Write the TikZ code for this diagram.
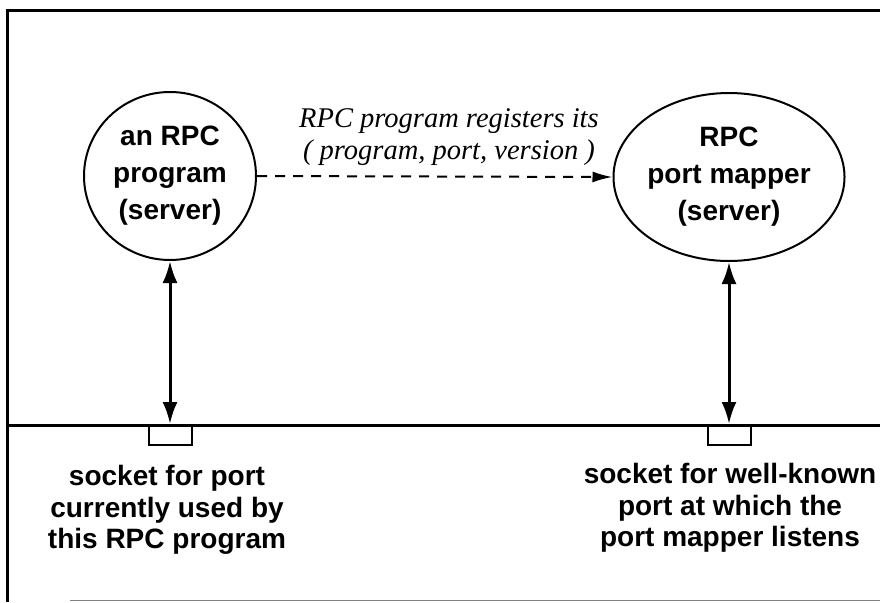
\documentclass[tikz,border=0pt]{standalone}
\usepackage{fontspec}
\setmainfont{Liberation Sans}
\newfontfamily\tnr{Liberation Serif}
\usetikzlibrary{arrows.meta,shapes.geometric}
\begin{document}
\begin{tikzpicture}[x=1pt,y=-1pt]
\useasboundingbox[fill=white] (0,0) rectangle (880,602);
\tikzset{
  proc/.style={draw, line width=2pt, ellipse, minimum width=172pt, minimum height=168pt, inner sep=0pt, align=center, font=\fontsize{28}{37}\selectfont\bfseries},
  sock/.style={draw, line width=2pt, minimum width=43pt, minimum height=20pt, inner sep=0pt, anchor=north},
  note/.style={align=center, font=\fontsize{28}{31.5}\selectfont\bfseries},
  bar/.style={line width=3pt},
  link/.style={line width=3pt, {Latex[length=22pt,width=15pt]}-{Latex[length=22pt,width=15pt]}},
  reg/.style={line width=2pt, dash pattern=on 10pt off 8pt, -{Latex[length=20pt,width=11pt]}},
  regnote/.style={align=center, font=\tnr\itshape\fontsize{28.5}{32}\selectfont}
}
% frame
\coordinate (tl) at (7,11);
\coordinate (tr) at (880,11);
\coordinate (bl) at (7,602);
\coordinate (ml) at (7,425);
\coordinate (mr) at (880,425);
\draw[bar] (tl) -- (tr);
\draw[bar] (7,9.5) -- (bl);
\draw[bar] (ml) -- (mr);
\draw[line width=1pt, gray] (70,600) -- (880,600);

% servers
\node[proc] (prog) at (170,176) {an RPC\\program\\(server)};
\node[proc] (mapper) at (729,177) {RPC\\port mapper\\(server)};

% sockets
\node[sock] (sockL) at (170,424) {};
\node[sock] (sockR) at (729,424) {};

% connectors
\draw[link] (prog.south) -- (sockL.north);
\draw[link] (mapper.south) -- (sockR.north);
\draw[reg] (prog.east) -- (mapper.west);

% labels
\node[regnote] (regtext) at (449,137) {RPC program registers its\\( program, port, version )};
\node[note] (noteL) at (167,510) {socket for port\\currently used by\\this RPC program};
\node[note] (noteR) at (730,508) {socket for well-known\\port at which the\\port mapper listens};
\end{tikzpicture}
\end{document}
